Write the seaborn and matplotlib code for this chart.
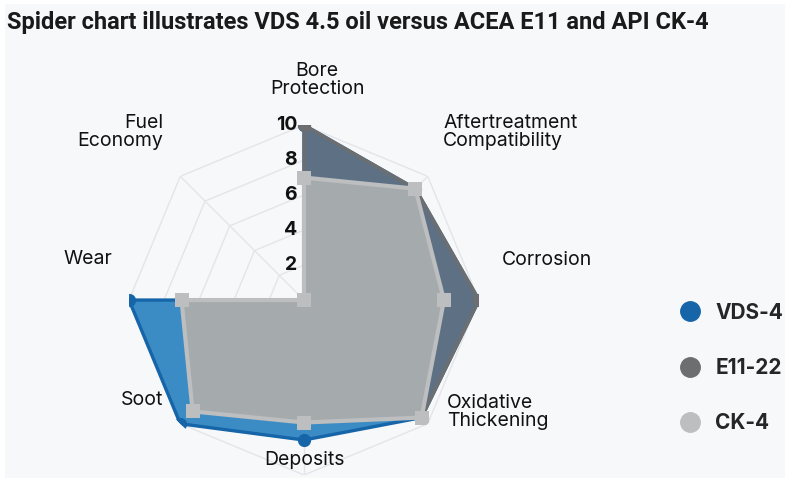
import numpy as np
import pandas as pd
import matplotlib.pyplot as plt
import seaborn as sns
from matplotlib.lines import Line2D
from matplotlib.patches import Rectangle
from matplotlib.transforms import offset_copy

# axes of the spider chart, clockwise from the top
categories = ['Bore\nProtection', 'Aftertreatment\nCompatibility', 'Corrosion',
              'Oxidative\nThickening', 'Deposits', 'Soot', 'Wear', 'Fuel\nEconomy']
vds4 = [10, 9, 10, 9.5, 8, 10, 10, 0]
e11_22 = [10, 9, 10, 9.5, 7, 9, 7, 0]
ck4 = [7, 9, 8, 9.5, 7, 9, 7, 0]
series_names = ['VDS-4', 'E11-22', 'CK-4']
ticks = [2, 4, 6, 8, 10]

title = 'Spider chart illustrates VDS 4.5 oil versus ACEA E11 and API CK-4'

sns.set_theme(style='white')
plt.rcParams['font.family'] = ['Inter', 'DejaVu Sans']

fig = plt.figure(figsize=(8, 4.82), dpi=100)
fig.patch.set_facecolor('white')
#light panel behind everything
fig.add_artist(Rectangle((5/800, 4/482), 780/800, 474/482, transform=fig.transFigure,
                         facecolor='#f7f8fa', edgecolor='none', zorder=-10))

ax = fig.add_axes([0.16125, 0.0145, 0.4375, 0.726], projection='polar')
ax.set_facecolor('none')
ax.set_theta_zero_location('N')
ax.set_theta_direction(-1)
ax.grid(False)
ax.spines['polar'].set_visible(False)
ax.set_xticks([])
ax.set_yticks([])

n = len(categories)
angles = np.linspace(0, 2*np.pi, n, endpoint=False)
closed_angles = np.append(angles, 2*np.pi)

#octagon grid and spokes
for t in ticks:
    ax.plot(closed_angles, [t]*(n+1), color='#e4e5e8', lw=1, zorder=0)
for a in angles:
    ax.plot([a, a], [0, ticks[-1]], color='#e4e5e8', lw=1, zorder=0)

styles = [
    (vds4, '#3b8cc5', '#1565a8', 'o', 9.5, 2.4),
    (e11_22, '#5e7083', '#6d6e70', 'o', 9, 2.4),
    (ck4, '#a5aaad', '#bcbec0', 's', 10, 3),
]
for z, (vals, fc, ec, mk, ms, lw) in enumerate(styles):
    closed = vals + vals[:1]
    ax.fill(closed_angles, closed, color=fc, zorder=2+z, lw=0)
    df = pd.DataFrame({'angle': closed_angles, 'score': closed})
    sns.lineplot(data=df, x='angle', y='score', sort=False, estimator=None, color=ec,
                 lw=lw, marker=mk, markersize=ms, markeredgewidth=0, ax=ax, zorder=2.5+z)

ax.set_ylim(0, 10)
ax.set_xlabel('')
ax.set_ylabel('')

#radial tick labels
tick_tr = offset_copy(ax.transData, fig=fig, x=-7, y=0, units='dots')
for t in ticks:
    ax.text(0, t, str(t), transform=tick_tr, ha='right', va='center',
            fontsize=14, fontweight='bold', color='#111111', zorder=10)

#category labels (pixel positions of the anchor)
label_pos = [(317, 80, 'center'), (443, 132, 'left'), (502, 260, 'left'), (447, 412, 'left'),
             (304, 460, 'center'), (163, 400, 'right'), (112, 259, 'right'), (163, 132, 'right')]
for lab, (px, py, ha) in zip(categories, label_pos):
    fig.text(px/800, 1 - py/482, lab, ha=ha, va='center', multialignment=ha,
             fontsize=14, color='#111111', linespacing=1.05)

fig.text(7/800, 1 - 22/482, title, ha='left', va='center', fontsize=17, fontweight='bold',
         family=['DejaVu Sans Condensed', 'Liberation Sans Narrow', 'Roboto'], color='#1a1a1a')

handles = [Line2D([], [], ls='none', marker='o', markersize=14, color=c)
           for c in ['#1565a8', '#6d6e70', '#bcbec0']]
fig.legend(handles, series_names, loc='center left', bbox_to_anchor=(661/800, 1 - 368/482),
           frameon=False, labelspacing=1.7, handlelength=1, handletextpad=0.7,
           prop={'weight': 'bold', 'size': 15})

plt.savefig('out.png', dpi=100)
